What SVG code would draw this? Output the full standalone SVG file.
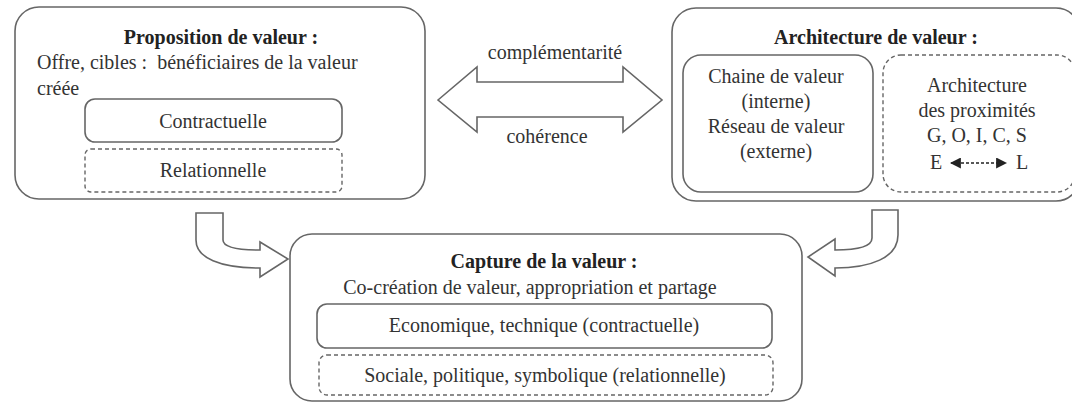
<svg xmlns="http://www.w3.org/2000/svg" width="1072" height="403" viewBox="0 0 1072 403">
<style>
.box{fill:none;stroke:#666;stroke-width:1.6}
.dash{fill:none;stroke:#666;stroke-width:1.4;stroke-dasharray:4 3}
.arr{fill:#fff;stroke:#666;stroke-width:1.6;stroke-linejoin:miter}
text{font-family:"Liberation Serif","Times New Roman",serif;font-size:20px;fill:#333}
.t{font-weight:bold;fill:#222}
.c{text-anchor:middle}
</style>
<defs>
<marker id="ah" viewBox="0 0 10 10" refX="9" refY="5" markerWidth="11" markerHeight="11" markerUnits="userSpaceOnUse" orient="auto-start-reverse">
<path d="M0,0 L10,5 L0,10 Z" fill="#222"/>
</marker>
</defs>
<rect width="1072" height="403" fill="#fff"/>
<g id="connectors">
<path class="arr" d="M438,100 L477,67 L477,82 L623,82 L623,67 L662,100 L623,132 L623,117 L477,117 L477,132 Z"/>
<text class="c" x="555" y="59">complémentarité</text>
<text class="c" x="547" y="143">cohérence</text>
<path class="arr" d="M196,213 L223,213 L223,240 C223,247 235,250 260,250 L260,242 L288,259 L260,277 L260,268 C220,268 196,258 196,240 Z"/>
<path class="arr" d="M872,210 L898,210 L898,235 C898,258 870,268 835,268 L835,276 L808,257 L835,239 L835,250 C860,250 872,246 872,238 Z"/>
</g>
<g id="proposition">
<rect class="box" x="15" y="7" width="410" height="192" rx="24"/>
<text class="t c" x="221" y="44">Proposition de valeur :</text>
<text x="37" y="69">Offre, cibles :&#160; bénéficiaires de la valeur</text>
<text x="37" y="95">créée</text>
</g>
<g id="contractuelle">
<rect class="box" x="85" y="99" width="257" height="43" rx="10"/>
<text class="c" x="213" y="128">Contractuelle</text>
</g>
<g id="relationnelle">
<rect class="dash" x="85" y="149" width="257" height="43" rx="6"/>
<text class="c" x="213" y="177">Relationnelle</text>
</g>
<g id="architecture">
<rect class="box" x="672" y="8" width="408" height="193" rx="24"/>
<text class="t c" x="876" y="44">Architecture de valeur :</text>
</g>
<g id="chaine">
<rect class="box" x="683" y="55" width="190" height="137" rx="18"/>
<text class="c" x="776" y="83">Chaine de valeur</text>
<text class="c" x="776" y="108">(interne)</text>
<text class="c" x="776" y="133">Réseau de valeur</text>
<text class="c" x="776" y="158">(externe)</text>
</g>
<g id="proximites">
<rect class="dash" x="883" y="55" width="192" height="137" rx="18"/>
<text class="c" x="977" y="92">Architecture</text>
<text class="c" x="977" y="117">des proximités</text>
<text class="c" x="977" y="142">G, O, I, C, S</text>
<text x="930" y="169">E</text>
<line x1="951" y1="163" x2="1006" y2="163" stroke="#222" stroke-width="1.3" stroke-dasharray="3 2" marker-start="url(#ah)" marker-end="url(#ah)"/>
<text x="1016" y="169">L</text>
</g>
<g id="capture">
<rect class="box" x="290" y="234" width="512" height="167" rx="22"/>
<text class="t c" x="544" y="268">Capture de la valeur :</text>
<text class="c" x="530" y="294">Co-création de valeur, appropriation et partage</text>
</g>
<g id="economique">
<rect class="box" x="317" y="304" width="455" height="44" rx="10"/>
<text class="c" x="544" y="332">Economique, technique (contractuelle)</text>
</g>
<g id="sociale">
<rect class="dash" x="319" y="355" width="454" height="40" rx="8"/>
<text class="c" x="545" y="382">Sociale, politique, symbolique (relationnelle)</text>
</g>
</svg>
